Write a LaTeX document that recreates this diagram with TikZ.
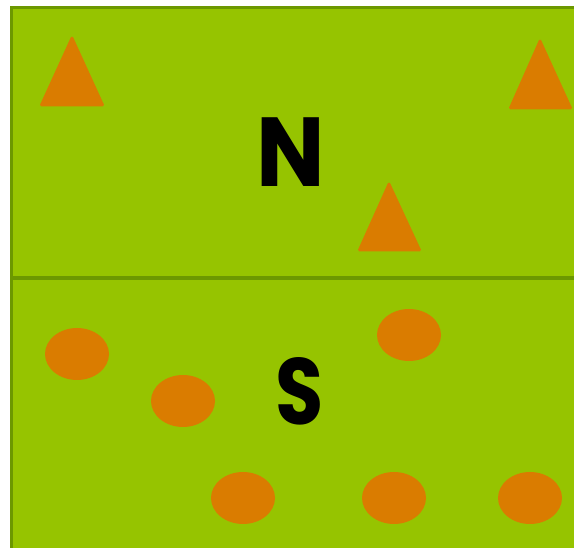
\documentclass[tikz,border=0pt]{standalone}
\usepackage{fontspec}
\newfontfamily\labelfont{Poppins}[BoldFont=* Bold]
\definecolor{fieldgreen}{RGB}{150,196,0}
\definecolor{edgegreen}{RGB}{108,152,0}
\definecolor{coneorange}{RGB}{218,124,0}
\begin{document}
\begin{tikzpicture}[x=1pt,y=1pt,
  zone/.style={fill=fieldgreen,draw=edgegreen,line width=3pt},
  cone/.style={fill=coneorange,draw=coneorange,line width=1pt,rounded corners=1.5pt},
  disc/.style={fill=coneorange,draw=none},
  letter/.style={font=\labelfont\bfseries\fontsize{98}{98}\selectfont,text=black,inner sep=0pt,anchor=base}]
\useasboundingbox (0,0) rectangle (574,-548);
\clip (0,0) rectangle (574,-548);
\fill[white] (0,0) rectangle (574,-548);
% zones
\draw[zone] (11.5,-7.5) rectangle (590,-277.5);
\draw[zone] (11.5,-278.5) rectangle (590,-560);
% triangles (cones)
\draw[cone] (72,-36) -- (104,-106) -- (40,-106) -- cycle;
\draw[cone] (540,-39) -- (572,-109) -- (509,-109) -- cycle;
\draw[cone] (389,-182) -- (421,-251) -- (358,-251) -- cycle;
% discs
\fill[disc] (77,-354) ellipse (32 and 26);
\fill[disc] (183,-401) ellipse (32 and 26);
\fill[disc] (409,-335) ellipse (32 and 26);
\fill[disc] (243,-498) ellipse (32 and 26);
\fill[disc] (394,-498) ellipse (32 and 26);
\fill[disc] (530,-498) ellipse (32 and 26);
% labels
\node[letter] (north) at (291,-187) {\scalebox{0.93}[1]{N}};
\node[letter] (south) at (300,-425) {\scalebox{0.8}[0.96]{S}};
\end{tikzpicture}
\end{document}
